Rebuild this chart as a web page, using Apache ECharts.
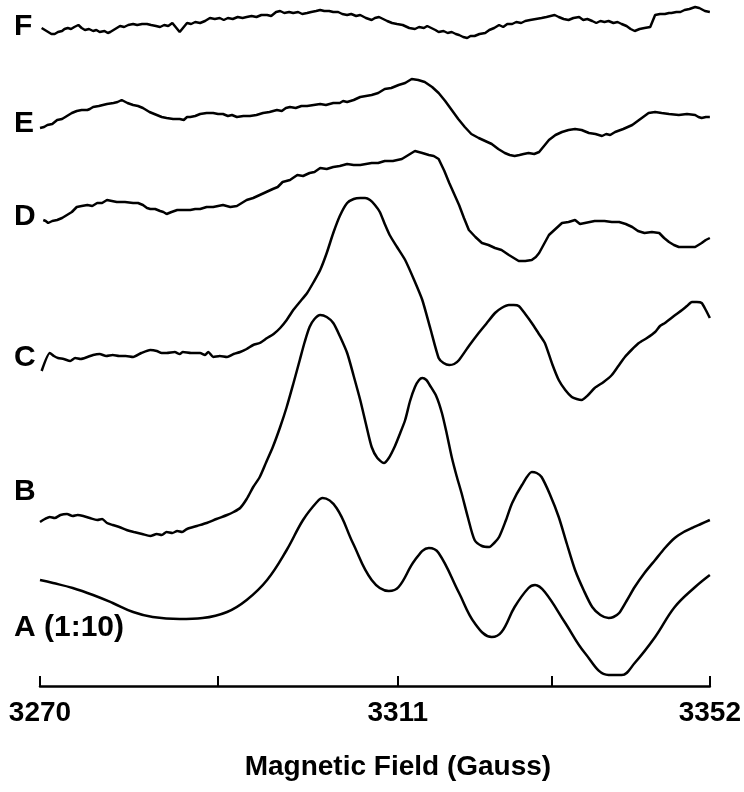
<!DOCTYPE html>
<html>
<head>
<meta charset="utf-8">
<script src="https://cdn.jsdelivr.net/npm/echarts@6/dist/echarts.min.js"></script>
<style>
html,body{margin:0;padding:0;background:#fff;}
#chart{width:744px;height:792px;}
</style>
</head>
<body>
<div id="chart"></div>
<script>
// Magnetic field (Gauss) / signal (arbitrary units, stacked traces)
const traceNames = ['F', 'E', 'D', 'C', 'B', 'A (1:10)'];

const fieldF = [3270.2,3270.6,3271.0,3271.4,3271.8,3272.2,3272.7,3273.0,3273.4,3273.8,3274.2,3274.7,3275.1,3275.5,3276.0,3276.5,3276.9,3277.3,3277.9,3278.3,3278.6,3279.2,3279.8,3280.3,3280.8,3281.4,3281.9,3282.5,3283.1,3283.6,3284.2,3284.7,3285.2,3285.7,3286.2,3286.6,3287.1,3287.5,3288.0,3288.5,3289.0,3289.6,3290.2,3290.8,3291.4,3292.0,3292.5,3293.0,3293.6,3294.2,3294.8,3295.3,3295.9,3296.5,3297.1,3297.8,3298.3,3298.9,3299.4,3299.9,3300.5,3301.0,3301.6,3302.1,3302.7,3303.2,3303.8,3304.3,3304.8,3305.4,3305.9,3306.5,3307.0,3307.6,3308.1,3308.7,3309.2,3309.9,3310.6,3311.0,3311.5,3312.0,3312.5,3313.1,3313.7,3314.4,3315.2,3315.9,3316.4,3317.0,3317.4,3317.9,3318.4,3318.8,3319.4,3319.9,3320.4,3320.9,3321.3,3321.8,3322.3,3322.7,3323.2,3323.8,3324.5,3325.0,3325.6,3326.2,3326.7,3327.2,3327.8,3328.3,3328.9,3329.4,3330.0,3330.7,3331.4,3332.0,3332.5,3333.0,3333.5,3334.1,3334.7,3335.3,3336.0,3336.5,3337.0,3337.6,3338.1,3338.6,3339.1,3339.6,3340.2,3340.7,3341.2,3341.8,3342.3,3342.8,3343.4,3344.0,3344.7,3345.0,3345.3,3345.9,3346.5,3347.0,3347.3,3347.9,3348.4,3348.9,3349.5,3350.2,3350.7,3351.4,3352.0];
const signalF = [658,656,654,652,652,654,655,657,658,657,659,661,658,656,657,655,656,654,655,653,654,657,660,659,661,662,661,662,662,661,660,659,661,660,663,659,654,658,663,662,664,663,665,668,667,668,666,668,667,669,668,669,670,669,671,671,670,674,675,673,674,673,674,672,673,674,675,676,675,675,674,674,672,671,672,670,671,668,666,668,669,667,665,663,662,661,658,657,659,658,660,658,656,654,655,653,654,652,651,649,648,650,650,652,653,656,658,661,659,662,662,664,663,665,666,667,668,669,670,671,669,667,666,668,669,666,667,665,663,665,664,665,663,664,662,660,657,655,657,658,659,665,671,672,672,673,673,674,674,676,677,679,678,675,674];

const fieldE = [3270.0,3270.5,3270.9,3271.5,3272.1,3272.7,3273.3,3273.9,3274.5,3275.1,3275.8,3276.1,3276.5,3277.2,3278.2,3279.0,3279.5,3280.0,3280.7,3281.4,3282.0,3282.6,3283.4,3284.3,3284.9,3285.5,3286.3,3287.1,3287.6,3288.0,3288.4,3289.0,3289.6,3290.4,3291.2,3291.8,3292.4,3293.0,3293.5,3294.1,3294.9,3295.7,3296.5,3297.3,3298.1,3299.0,3299.6,3300.1,3300.6,3301.3,3302.0,3302.7,3303.5,3304.3,3305.0,3305.9,3306.7,3307.1,3307.6,3308.4,3309.2,3309.9,3310.6,3311.4,3312.2,3313.0,3313.9,3314.7,3315.5,3316.3,3317.1,3318.0,3318.8,3319.6,3320.4,3321.2,3322.0,3322.8,3323.7,3324.5,3325.3,3326.1,3326.9,3327.5,3328.1,3328.7,3329.2,3329.8,3330.5,3331.1,3331.7,3332.3,3333.1,3333.9,3334.7,3335.5,3336.3,3337.2,3338.0,3338.8,3339.3,3339.8,3340.4,3341.4,3342.5,3343.5,3344.5,3345.3,3346.1,3347.0,3348.2,3349.2,3350.2,3350.6,3351.0,3351.5,3352.0];
const signalE = [558,559,561,562,566,567,570,573,575,576,576,577,579,580,582,583,584,586,583,581,580,578,574,571,569,568,567,567,566,569,569,570,572,573,573,572,572,570,571,569,570,570,571,573,574,576,575,578,579,578,580,580,581,582,581,583,583,585,584,586,589,590,591,593,597,598,601,603,607,606,604,599,593,585,576,567,559,552,548,545,542,537,533,531,530,531,532,533,532,534,540,546,551,554,556,557,556,553,552,550,552,551,554,557,561,567,573,574,573,572,571,572,571,569,568,569,569];

const fieldD = [3270.4,3270.7,3271.0,3271.5,3272.1,3272.7,3273.3,3273.9,3274.5,3275.1,3275.8,3276.4,3277.0,3277.6,3278.2,3278.8,3279.4,3280.4,3281.4,3282.0,3282.6,3283.1,3283.5,3284.1,3284.7,3285.1,3285.5,3286.1,3286.8,3287.6,3288.4,3289.0,3289.6,3290.4,3291.2,3291.8,3292.4,3293.3,3294.1,3294.7,3295.3,3296.1,3296.9,3297.7,3298.5,3299.1,3299.7,3300.6,3301.5,3302.2,3303.0,3303.6,3304.3,3305.1,3305.9,3306.7,3307.6,3308.4,3309.2,3309.9,3310.6,3311.4,3312.2,3313.2,3314.3,3315.1,3315.9,3316.8,3317.6,3318.2,3318.8,3319.5,3320.1,3320.7,3321.3,3321.9,3322.5,3323.3,3324.1,3324.9,3325.7,3326.5,3327.4,3328.0,3328.6,3329.4,3330.2,3330.7,3331.1,3331.7,3332.3,3333.1,3333.9,3334.7,3335.5,3336.1,3336.7,3337.9,3339.1,3340.0,3340.9,3341.7,3342.5,3343.2,3344.0,3344.9,3345.8,3346.4,3347.0,3347.6,3348.2,3349.2,3350.2,3350.6,3351.0,3351.5,3352.0];
const signalD = [466,465,463,465,466,468,471,474,479,480,481,480,483,483,486,485,484,484,483,483,481,478,477,477,475,474,472,474,476,476,476,477,477,479,479,480,481,479,480,483,486,488,491,494,497,499,504,506,511,510,513,514,518,517,519,520,522,521,521,522,523,523,525,525,527,531,535,533,531,530,527,515,503,492,481,468,456,449,443,441,438,436,431,428,425,425,426,429,433,442,451,457,463,464,466,462,463,465,465,464,464,462,459,455,453,454,453,448,444,441,439,439,439,441,443,446,448];

const fieldC = [3270.2,3271.2,3271.7,3272.2,3272.9,3273.7,3274.3,3275.0,3275.8,3276.5,3277.3,3278.1,3278.9,3279.7,3280.5,3281.4,3282.4,3283.5,3284.3,3284.9,3285.5,3286.5,3287.1,3287.5,3288.5,3289.6,3290.2,3290.6,3291.2,3292.0,3292.9,3293.7,3294.5,3295.3,3296.1,3296.9,3297.8,3298.6,3299.4,3300.2,3301.0,3301.8,3302.7,3303.5,3304.3,3305.1,3305.9,3306.7,3307.6,3308.4,3309.2,3309.8,3310.4,3311.0,3311.6,3312.2,3312.8,3313.7,3314.7,3315.8,3316.8,3317.8,3318.8,3319.4,3320.1,3320.7,3321.3,3322.5,3323.7,3324.7,3325.7,3326.5,3327.4,3328.0,3328.6,3329.4,3330.2,3331.0,3331.8,3332.7,3333.5,3334.3,3335.1,3335.7,3336.3,3337.1,3337.9,3339.0,3340.0,3340.8,3341.6,3342.4,3343.3,3344.3,3345.3,3345.9,3346.5,3347.6,3348.6,3349.2,3349.8,3350.4,3351.0,3351.5,3352.0];
const signalC = [315,333,330,328,327,325,328,327,329,331,332,330,331,330,330,329,333,336,335,333,333,334,332,334,333,333,331,334,329,330,329,332,334,337,341,343,348,352,358,366,376,384,393,404,416,433,453,470,483,487,488,488,486,481,474,462,451,439,426,406,386,357,328,323,321,322,326,340,353,363,373,378,381,381,380,372,363,353,343,322,306,296,289,287,286,291,298,304,311,320,329,336,343,348,354,360,363,370,376,380,384,384,383,376,368];

const fieldB = [3270.0,3270.6,3271.2,3271.8,3272.5,3273.3,3274.0,3274.6,3275.3,3276.1,3277.0,3277.6,3278.2,3278.9,3279.7,3280.6,3281.5,3282.5,3283.5,3284.3,3284.9,3285.5,3286.2,3286.8,3287.4,3288.0,3289.2,3290.4,3291.6,3292.9,3293.7,3294.5,3295.3,3296.1,3296.9,3297.7,3298.5,3299.4,3300.2,3301.0,3301.8,3302.4,3303.0,3303.6,3304.3,3305.1,3305.9,3306.7,3307.6,3308.4,3309.2,3309.9,3310.6,3311.3,3312.1,3312.7,3313.4,3314.0,3314.7,3315.3,3315.9,3316.4,3316.8,3317.3,3317.7,3318.5,3319.2,3319.8,3320.4,3321.0,3321.6,3322.4,3323.2,3324.1,3325.0,3325.6,3326.2,3327.0,3327.8,3329.0,3330.2,3330.8,3331.4,3332.4,3333.5,3334.5,3335.5,3336.6,3337.6,3338.6,3339.6,3340.2,3340.9,3341.8,3342.8,3344.0,3345.3,3346.5,3347.7,3348.8,3349.8,3350.9,3352.0];
const signalB = [164,167,169,168,171,172,170,171,170,168,166,167,163,161,159,156,154,152,150,152,151,154,153,155,154,157,160,163,167,171,174,178,187,199,209,224,239,259,279,302,326,344,359,367,371,369,363,350,333,310,286,262,239,228,223,228,239,251,266,285,299,306,308,306,301,290,273,252,229,210,193,168,146,140,139,143,149,165,183,201,214,213,209,192,169,142,116,95,79,71,68,69,73,85,99,113,126,138,148,154,158,162,166];

const fieldA = [3270.0,3271.6,3274.0,3276.5,3278.9,3281.4,3283.8,3287.1,3289.9,3292.9,3295.3,3297.8,3300.2,3302.2,3303.9,3304.6,3306.3,3308.3,3310.6,3312.7,3313.9,3315.9,3317.6,3318.8,3321.3,3323.2,3325.3,3326.5,3328.1,3329.8,3330.6,3331.8,3334.3,3336.7,3339.6,3341.2,3342.8,3345.3,3347.7,3350.2,3352.0];
const signalA = [106,103,98,91,83,74,69,67,68,74,86,106,136,166,184,188,178,143,106,95,99,126,138,133,93,63,49,54,79,98,101,94,63,33,11,11,23,49,79,99,111];

// axis ticks and labels
const tickFields = [3270, 3291.8, 3313.8, 3332.7, 3352];
const labelFields = [3270, 3313.8, 3352];
const labelTexts = ['3270', '3311', '3352'];
const labelY = [27, 124, 217, 358, 492, 628];

function pairs(xs, ys) { return xs.map((x, i) => [x, ys[i]]); }

const traces = [
  { f: fieldF, s: signalF, smooth: false },
  { f: fieldE, s: signalE, smooth: false },
  { f: fieldD, s: signalD, smooth: false },
  { f: fieldC, s: signalC, smooth: 0.2 },
  { f: fieldB, s: signalB, smooth: 0.25 },
  { f: fieldA, s: signalA, smooth: 0.4 }
];

const chart = echarts.init(document.getElementById('chart'), null, { renderer: 'canvas' });
const FONT = '"Liberation Sans", Arial, Helvetica, sans-serif';

chart.setOption({
  animation: false,
  backgroundColor: '#ffffff',
  grid: { left: 40, right: 34, top: 0, bottom: 106 },
  xAxis: {
    type: 'value',
    min: 3270,
    max: 3352,
    splitLine: { show: false },
    axisLine: { show: true, lineStyle: { color: '#000', width: 2.5 } },
    axisTick: { show: true, inside: true, length: 10, customValues: tickFields, lineStyle: { color: '#000', width: 2 } },
    axisLabel: {
      customValues: labelFields,
      margin: 13,
      color: '#000',
      fontFamily: FONT,
      fontWeight: 'bold',
      fontSize: 28,
      formatter: function (v) {
        for (let i = 0; i < labelFields.length; i++) {
          if (Math.abs(labelFields[i] - v) < 0.01) return labelTexts[i];
        }
        return '';
      }
    },
    name: 'Magnetic Field (Gauss)',
    nameLocation: 'middle',
    nameGap: 67,
    nameTextStyle: { color: '#000', fontFamily: FONT, fontWeight: 'bold', fontSize: 28, padding: [0, 0, 0, 46] }
  },
  yAxis: { type: 'value', min: 0, max: 686, show: false },
  series: traces.map((t, i) => ({
    type: 'line',
    name: traceNames[i],
    data: pairs(t.f, t.s),
    showSymbol: false,
    smooth: t.smooth,
    clip: false,
    lineStyle: { color: '#000', width: 2.5 }
  })),
  graphic: traceNames.map((n, i) => ({
    type: 'text',
    x: 14,
    y: labelY[i],
    style: {
      text: n,
      fill: '#000',
      font: 'bold 30px ' + FONT,
      verticalAlign: 'middle',
      align: 'left'
    }
  }))
});
</script>
</body>
</html>
